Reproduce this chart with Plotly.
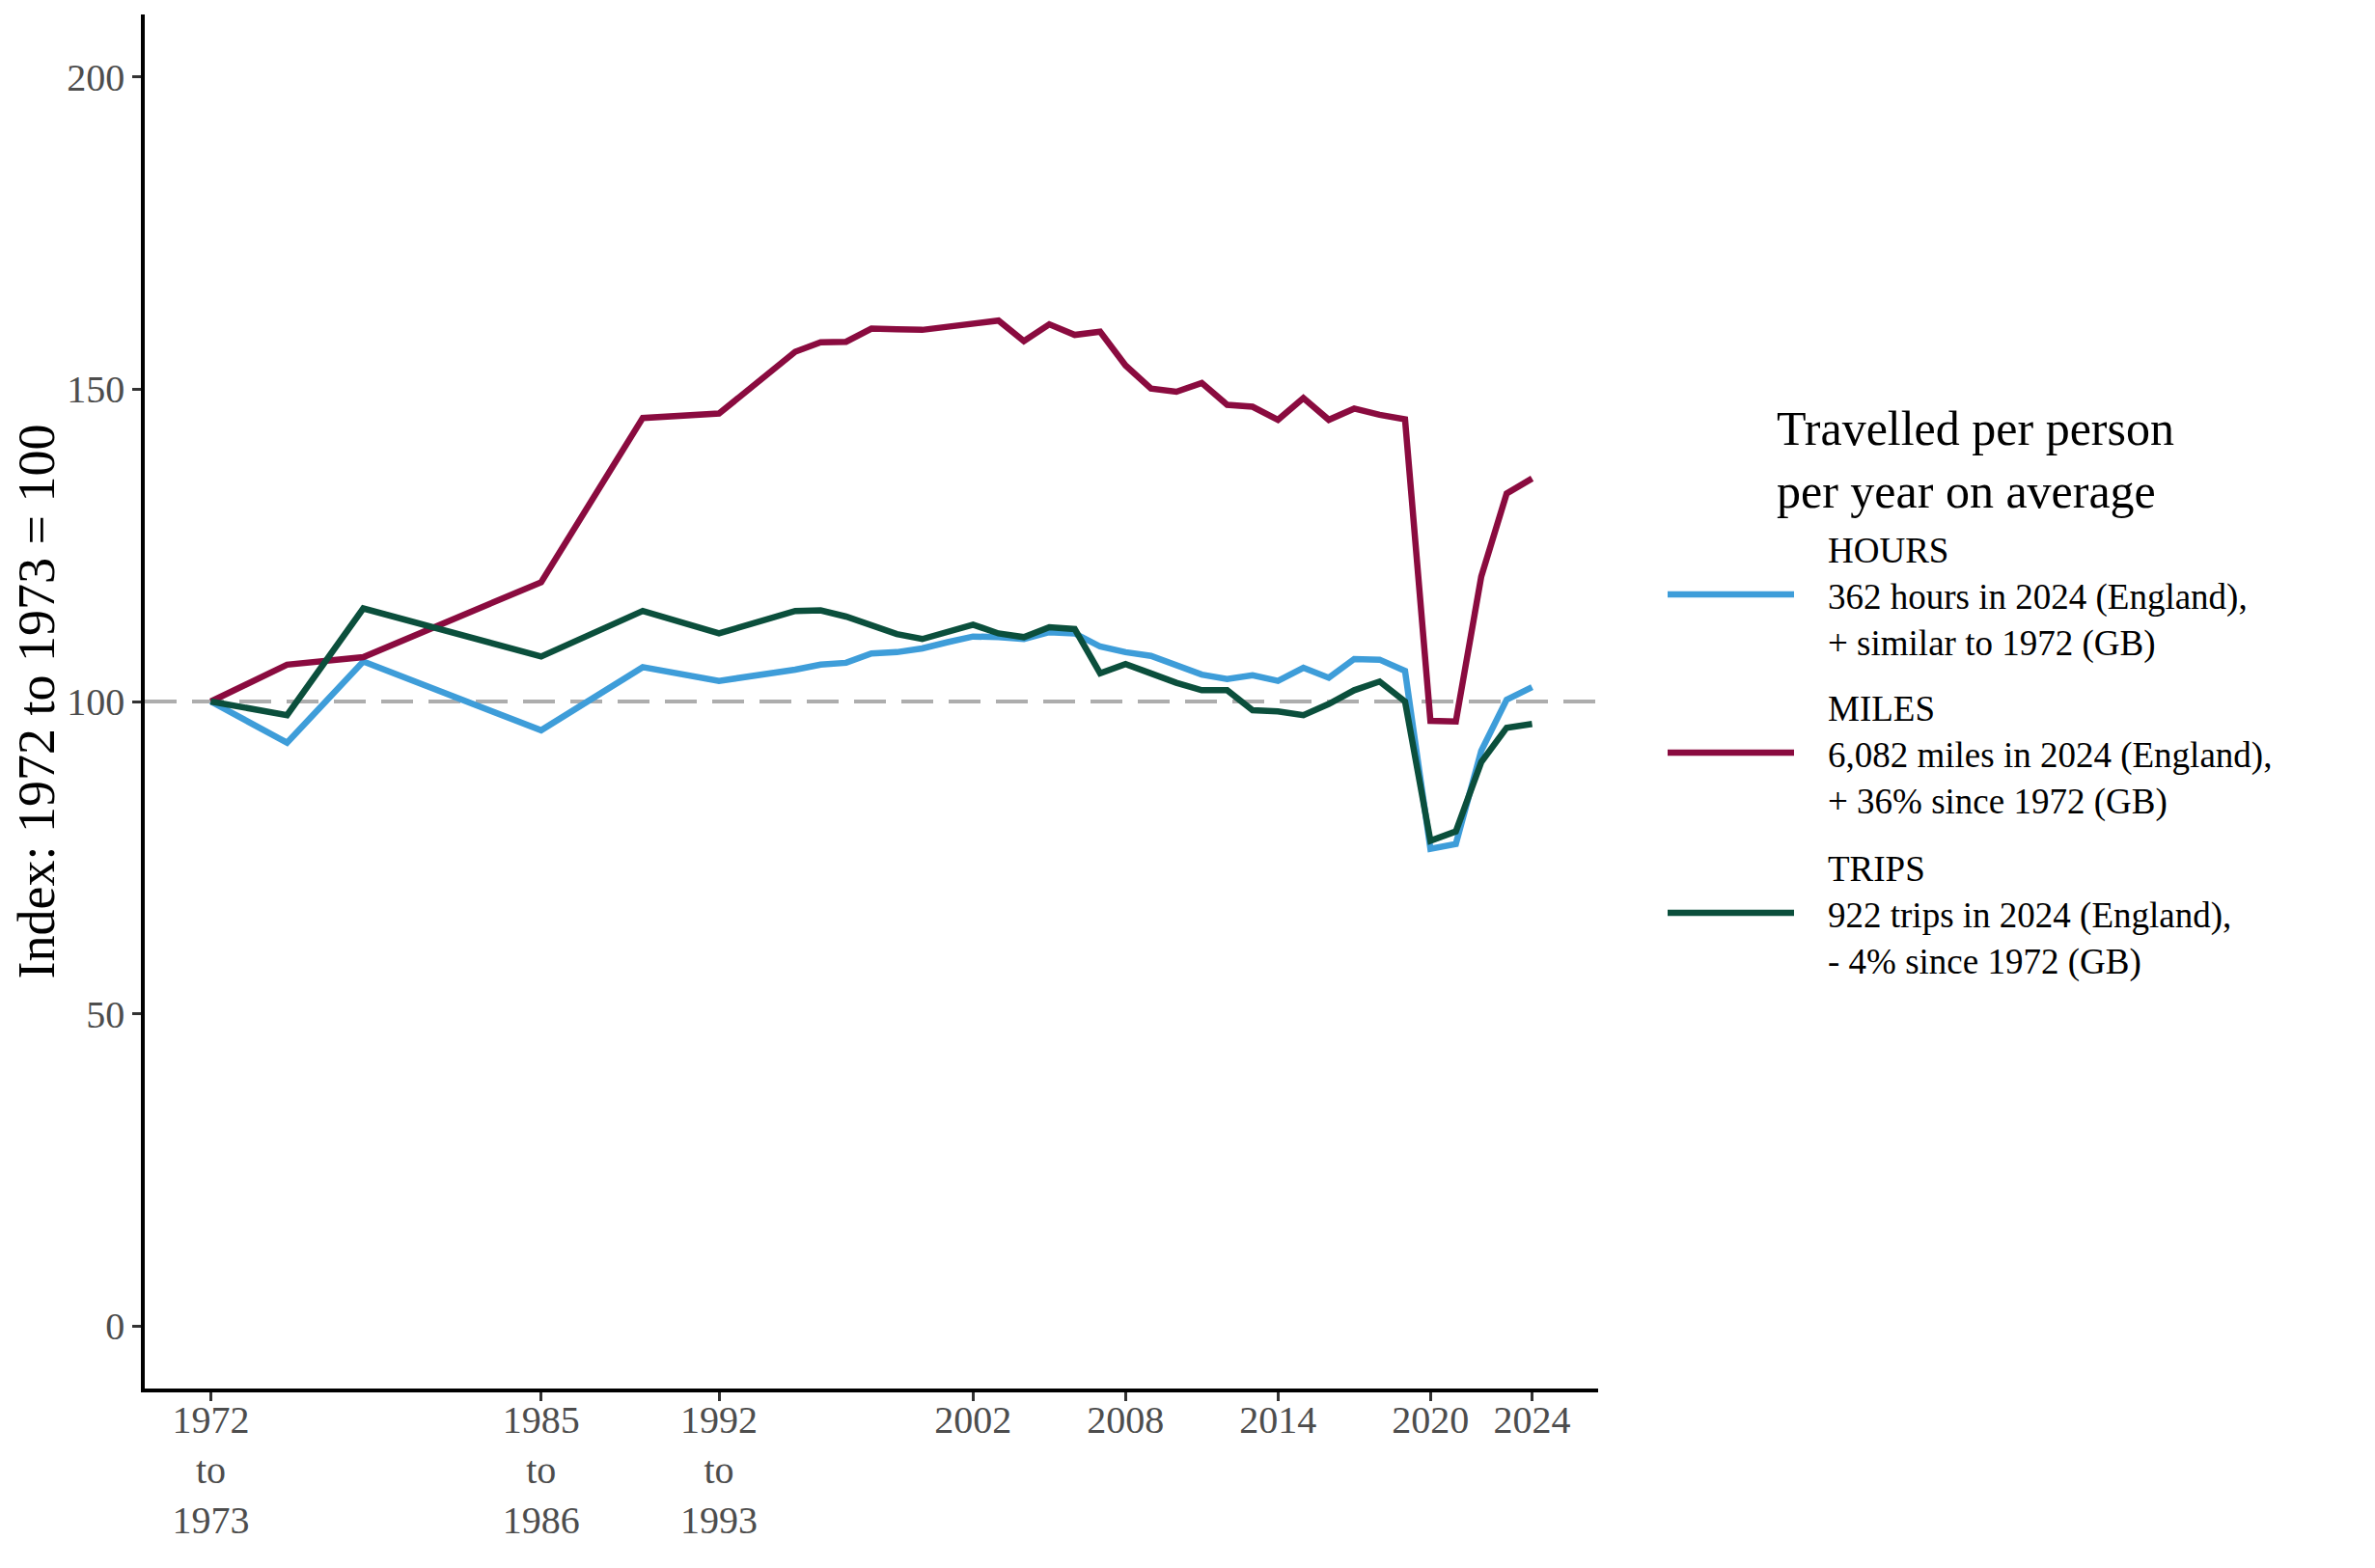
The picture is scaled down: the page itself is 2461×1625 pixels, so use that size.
import plotly.graph_objects as go

# ---------------- data ----------------
years = [1972, 1975, 1978, 1985, 1989, 1992, 1995, 1996, 1997, 1998, 1999,
         2000, 2001, 2002, 2003, 2004, 2005, 2006, 2007, 2008, 2009, 2010,
         2011, 2012, 2013, 2014, 2015, 2016, 2017, 2018, 2019, 2020, 2021,
         2022, 2023, 2024]

hours = [100, 93.4, 106.4, 95.4, 105.5, 103.3, 105.1, 105.9, 106.2, 107.7, 107.9,
         108.5, 109.5, 110.4, 110.3, 110.0, 111.1, 110.9, 108.8, 107.9, 107.3, 105.9,
         104.3, 103.6, 104.2, 103.3, 105.4, 103.8, 106.8, 106.7, 104.9, 76.4, 77.2,
         92.1, 100.3, 102.3]

miles = [100, 105.9, 107.1, 119.1, 145.4, 146.1, 156.0, 157.5, 157.6, 159.7, 159.6,
         159.5, 160.0, 160.6, 161.0, 157.7, 160.4, 158.7, 159.2, 153.8, 150.1, 149.6,
         151.0, 147.5, 147.2, 145.1, 148.6, 145.1, 146.9, 145.9, 145.2, 96.9, 96.8,
         120.0, 133.3, 135.7]

trips = [100, 97.8, 114.9, 107.2, 114.5, 110.9, 114.5, 114.6, 113.6, 112.1, 110.8,
         110.0, 111.1, 112.3, 110.9, 110.3, 111.9, 111.6, 104.5, 106.0, 104.5, 103.0,
         101.8, 101.8, 98.6, 98.4, 97.8, 99.6, 101.8, 103.2, 100.0, 77.7, 79.2,
         90.3, 95.8, 96.4]

series_names = ["HOURS", "MILES", "TRIPS"]
series_values = [hours, miles, trips]
series_notes = [
    "362 hours in 2024 (England),<br>+ similar to 1972 (GB)",
    "6,082 miles in 2024 (England),<br>+ 36% since 1972 (GB)",
    "922 trips in 2024 (England),<br>- 4% since 1972 (GB)",
]
legend_title = "Travelled per person<br>per year on average"

x_tick_vals = [1972, 1985, 1992, 2002, 2008, 2014, 2020, 2024]
x_tick_text = ["1972<br>to<br>1973", "1985<br>to<br>1986", "1992<br>to<br>1993",
               "2002", "2008", "2014", "2020", "2024"]
y_tick_vals = [0, 50, 100, 150, 200]
baseline_value = 100
y_title = "Index: 1972 to 1973 = 100"

# ---------------- styling / layout ----------------
colors = ["#3E9DD9", "#8A0B3F", "#0B4F3C"]
FONT = "Liberation Serif, Times New Roman, serif"
W, H = 2461, 1625
OFF = 8  # page body margin
# plot area in page pixel coordinates
PL, PR, PT, PB = 150, 1656, 15, 1439
ML, MT = PL - OFF, PT - OFF
MR, MB = W - (PR - OFF), H - (PB - OFF)


def px_x(px):
    return (px - PL) / (PR - PL)


def px_y(py):
    return (PB - py) / (PB - PT)


fig = go.Figure()
for name, vals, col in zip(series_names, series_values, colors):
    fig.add_trace(go.Scatter(
        x=years, y=vals, mode="lines", name=name,
        line=dict(color=col, width=6.5),
        showlegend=False,
    ))

shapes = [dict(
    type="line", xref="paper", x0=0, x1=1, yref="y", y0=baseline_value, y1=baseline_value,
    line=dict(color="#ADADAD", width=4, dash="33px,16px"), layer="below",
)]

annotations = [dict(
    xref="paper", yref="paper", x=px_x(1839), y=px_y(476),
    xanchor="left", yanchor="middle", align="left", showarrow=False,
    text=legend_title, font=dict(family=FONT, size=50, color="#000000"),
)]

ITEM_SIZE = 37
legend_lines_y = [616, 780, 946]
for name, note, col, ly in zip(series_names, series_notes, colors, legend_lines_y):
    shapes.append(dict(
        type="line", xref="paper", yref="paper",
        x0=px_x(1728), x1=px_x(1859), y0=px_y(ly), y1=px_y(ly),
        line=dict(color=col, width=6.5),
    ))
    annotations.append(dict(
        xref="paper", yref="paper", x=px_x(1892), y=px_y(ly + 3),
        xanchor="left", yanchor="middle", align="left", showarrow=False,
        text=name + "<br>" + note,
        font=dict(family=FONT, size=ITEM_SIZE, color="#000000"),
    ))

fig.update_layout(
    width=W, height=H,
    margin=dict(l=ML, r=MR, t=MT, b=MB, autoexpand=False),
    paper_bgcolor="white", plot_bgcolor="white",
    font=dict(family=FONT, color="#000000"),
    shapes=shapes, annotations=annotations,
    showlegend=False,
)

fig.update_xaxes(
    range=[1969.4, 2026.6], tickmode="array", tickvals=x_tick_vals, ticktext=x_tick_text,
    showgrid=False, zeroline=False, showline=True, linecolor="#000000", linewidth=3.5,
    ticks="outside", ticklen=9, tickwidth=3, tickcolor="#333333",
    tickfont=dict(family=FONT, size=40, color="#4D4D4D"),
    ticklabelstandoff=-15,
)
fig.update_yaxes(
    range=[-10, 210], tickmode="array", tickvals=y_tick_vals,
    showgrid=False, zeroline=False, showline=True, linecolor="#000000", linewidth=3.5,
    ticks="outside", ticklen=9, tickwidth=3, tickcolor="#333333",
    tickfont=dict(family=FONT, size=40, color="#4D4D4D"),
    title=dict(text=y_title, font=dict(family=FONT, size=54, color="#000000"), standoff=6),
)

fig.write_html("out.html")
